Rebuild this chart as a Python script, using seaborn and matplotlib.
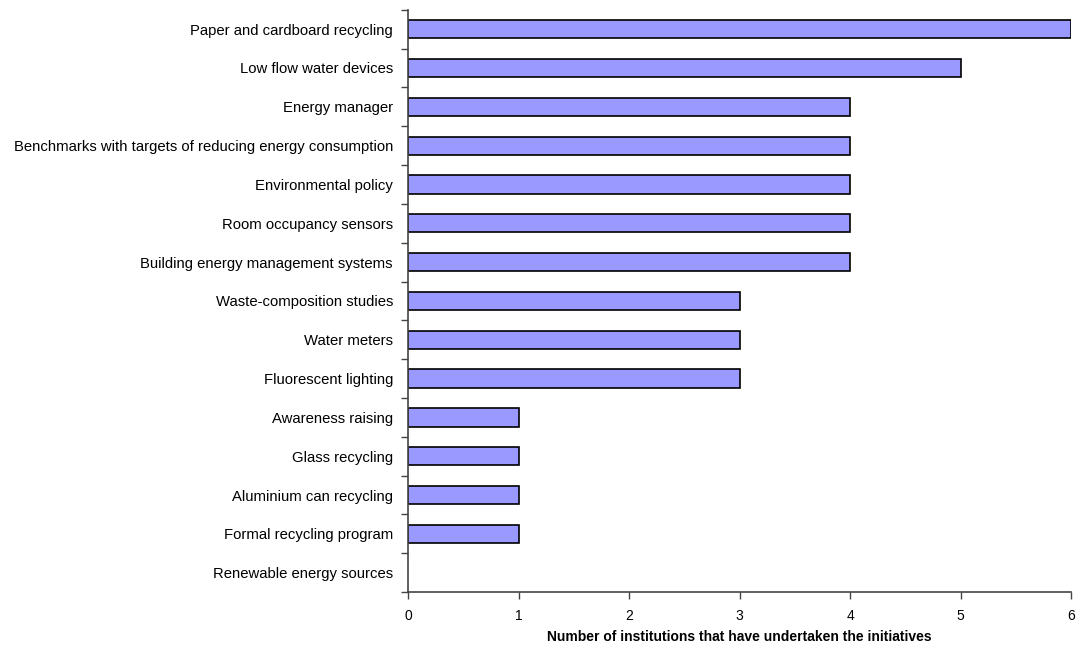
import matplotlib
matplotlib.use('Agg')
import matplotlib.pyplot as plt
import numpy as np
import pandas as pd
import seaborn as sns

# Initiatives and number of institutions that took them up
initiatives = [
    "Paper and cardboard recycling",
    "Low flow water devices",
    "Energy manager",
    "Benchmarks with targets of reducing energy consumption",
    "Environmental policy",
    "Room occupancy sensors",
    "Building energy management systems",
    "Waste-composition studies",
    "Water meters",
    "Fluorescent lighting",
    "Awareness raising",
    "Glass recycling",
    "Aluminium can recycling",
    "Formal recycling program",
    "Renewable energy sources",
]
counts = [6, 5, 4, 4, 4, 4, 4, 3, 3, 3, 1, 1, 1, 1, 0]

df = pd.DataFrame({"initiative": initiatives, "count": counts})

sns.set_style("white")
plt.rcParams['font.family'] = ['Liberation Sans', 'DejaVu Sans']

fig = plt.figure(figsize=(10.77, 6.5), dpi=100)
ax = fig.add_axes([0.379, 0.089, 0.6155, 0.896])

sns.barplot(data=df, x="count", y="initiative", orient="h", color="#9999FF",
            saturation=1, edgecolor="black", linewidth=1.2, width=0.47, ax=ax)

# an empty bar should not leave a stray edge line
for patch in ax.patches:
    if patch.get_width() == 0:
        patch.set_linewidth(0)

ax.set_xlim(0, 6)
ax.set_ylim(len(initiatives) - 0.5, -0.5)
ax.set_xticks(range(0, 7))
ax.set_xlabel("Number of institutions that have undertaken the initiatives",
              fontsize=10, fontweight="bold", labelpad=5, color="black")
ax.set_ylabel("")

# ticks at category boundaries on the y axis
ax.set_yticks(np.arange(-0.5, len(initiatives)), minor=True)
ax.tick_params(axis="y", which="major", length=0, pad=11, labelsize=10.7,
               labelcolor="black")
ax.tick_params(axis="y", which="minor", length=5, width=1, color="#444444", left=True)
ax.tick_params(axis="x", which="major", length=5, width=1, color="#444444",
               bottom=True, labelsize=10, pad=7, labelcolor="black")

for side in ["top", "right"]:
    ax.spines[side].set_visible(False)
for side in ["left", "bottom"]:
    ax.spines[side].set_color("#444444")
    ax.spines[side].set_linewidth(1.2)

fig.savefig("out.png", dpi=100)
